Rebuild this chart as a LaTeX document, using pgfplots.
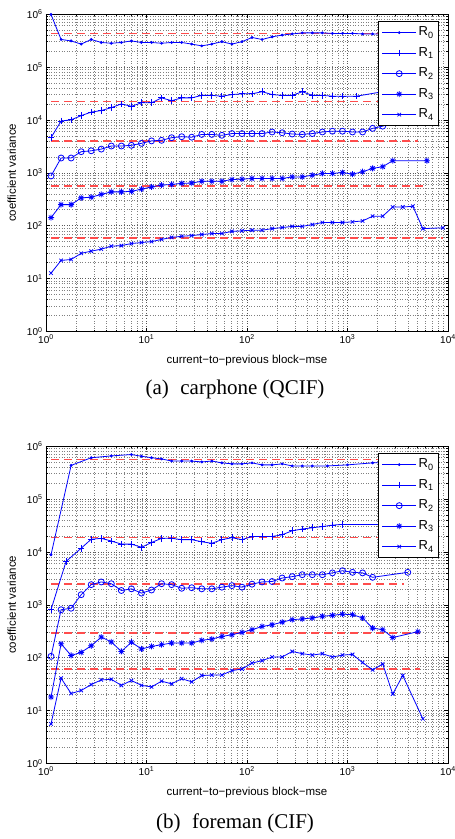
\documentclass[border=0pt]{standalone}
\usepackage{fontspec}
\setmainfont{Liberation Serif}
\setsansfont{Liberation Sans}
\usepackage{pgfplots}
\pgfplotsset{compat=1.18}
\definecolor{mblue}{rgb}{0,0,1}
\definecolor{mred}{rgb}{1,0.3,0.3}
\pgfdeclareplotmark{mstar}{%
  \pgfpathmoveto{\pgfqpoint{-\pgfplotmarksize}{0pt}}\pgfpathlineto{\pgfqpoint{\pgfplotmarksize}{0pt}}%
  \pgfpathmoveto{\pgfqpoint{0pt}{-\pgfplotmarksize}}\pgfpathlineto{\pgfqpoint{0pt}{\pgfplotmarksize}}%
  \pgfpathmoveto{\pgfqpoint{-.707\pgfplotmarksize}{-.707\pgfplotmarksize}}\pgfpathlineto{\pgfqpoint{.707\pgfplotmarksize}{.707\pgfplotmarksize}}%
  \pgfpathmoveto{\pgfqpoint{-.707\pgfplotmarksize}{.707\pgfplotmarksize}}\pgfpathlineto{\pgfqpoint{.707\pgfplotmarksize}{-.707\pgfplotmarksize}}%
  \pgfusepathqstroke}
\pgfplotsset{
 mat/.style={
  scale only axis, width=402pt, height=317.5pt,
  xmin=1, xmax=10000, ymin=1, ymax=1000000,
  xtick={1,10,100,1000,10000},
  xticklabels={10\textsuperscript{0},10\textsuperscript{1},10\textsuperscript{2},10\textsuperscript{3},10\textsuperscript{4}},
  ytick={1,10,100,1000,10000,100000,1000000},
  yticklabels={10\textsuperscript{0},10\textsuperscript{1},10\textsuperscript{2},10\textsuperscript{3},10\textsuperscript{4},10\textsuperscript{5},10\textsuperscript{6}},
  minor xtick={2,3,4,5,6,7,8,9,20,30,40,50,60,70,80,90,200,300,400,500,600,700,800,900,2000,3000,4000,5000,6000,7000,8000,9000},
  minor ytick={2,3,4,5,6,7,8,9,20,30,40,50,60,70,80,90,200,300,400,500,600,700,800,900,2000,3000,4000,5000,6000,7000,8000,9000,20000,30000,40000,50000,60000,70000,80000,90000,200000,300000,400000,500000,600000,700000,800000,900000},
  grid=both,
  major grid style={dash pattern=on 0.6pt off 2pt, black!65, line width=0.5pt},
  minor grid style={dash pattern=on 0.6pt off 2pt, black!50, line width=0.5pt},
  tick align=inside, major tick length=4pt, minor tick length=2pt,
  every tick/.style={black, line width=0.5pt},
  axis line style={black, line width=0.7pt},
  ticklabel style={font=\sffamily\fontsize{10}{12}\selectfont},
  label style={font=\sffamily\fontsize{11.5}{13}\selectfont},
  xlabel={current−to−previous block−mse},
  ylabel={coefficient variance},
  xlabel style={at={(axis description cs:0.5,-0.0915)},anchor=center},
  ylabel style={at={(axis description cs:-0.085,0.5)},anchor=center},
  legend style={at={(0.9776,0.978)}, anchor=north east, draw=black, line width=0.8pt, fill=white,
    font=\sffamily\fontsize{13}{14}\selectfont, inner xsep=3pt, inner ysep=1pt, row sep=0pt,
    nodes={text height=9.5pt, text depth=3pt, inner ysep=4pt, inner xsep=2pt},
    cells={anchor=west}},
  legend image code/.code={\draw[mark repeat=2,mark phase=2] plot coordinates {(0pt,0pt)(17pt,0pt)(34pt,0pt)};},
  every axis plot/.append style={line width=0.8pt},
 },
 r0/.style={mblue, mark=*, mark size=1pt},
 r1/.style={mblue, mark=+, mark size=3.3pt, mark options={solid}},
 r2/.style={mblue, mark=o, mark size=3pt, mark options={solid}},
 r3/.style={mblue, mark=mstar, mark size=3pt, mark options={solid}},
 r4/.style={mblue, mark=x, mark size=2.5pt, mark options={solid}},
 rd/.style={mred, dash pattern=on 8pt off 5pt, line width=1.4pt, forget plot},
}
\begin{document}
\begin{tikzpicture}
\begin{loglogaxis}[mat, at={(0,0)}, anchor=north west]
\addplot[rd] coordinates {(1.122,4.3e5)(3162,4.3e5)};
\addplot[rd] coordinates {(1.122,2.2e4)(3162,2.2e4)};
\addplot[rd] coordinates {(1.122,4.0e3)(5012,4.0e3)};
\addplot[rd] coordinates {(1.122,565)(6166,565)};
\addplot[rd] coordinates {(1.122,58)(8913,58)};
\addplot[r0] coordinates {(1.122,9.8e5)(1.413,3.3e5)(1.778,3.1e5)(2.239,2.7e5)(2.818,3.3e5)(3.548,2.9e5)(4.467,2.8e5)(5.623,2.9e5)(7.079,3.1e5)(8.913,2.9e5)(11.22,2.9e5)(14.13,2.8e5)(17.78,2.9e5)(22.39,2.9e5)(28.18,2.7e5)(35.48,2.5e5)(44.67,2.7e5)(56.23,3.0e5)(70.79,2.7e5)(89.13,3.0e5)(112.2,3.6e5)(141.3,3.3e5)(177.8,3.7e5)(223.9,4.0e5)(281.8,4.2e5)(354.8,4.4e5)(446.7,4.4e5)(562.3,4.4e5)(707.9,4.3e5)(891.3,4.3e5)(1122,4.3e5)(1413,4.2e5)(1778,4.2e5)(2239,4.2e5)(2818,4.2e5)};
\addlegendentry{R\textsubscript{0}}
\addplot[r1] coordinates {(1.122,4.6e3)(1.413,9.5e3)(1.778,1.0e4)(2.239,1.2e4)(2.818,1.4e4)(3.548,1.5e4)(4.467,1.7e4)(5.623,2.0e4)(7.079,1.8e4)(8.913,2.1e4)(11.22,2.1e4)(14.13,2.6e4)(17.78,2.3e4)(22.39,2.6e4)(28.18,2.6e4)(35.48,2.9e4)(44.67,2.9e4)(56.23,2.8e4)(70.79,3.0e4)(89.13,3.1e4)(112.2,3.1e4)(141.3,3.4e4)(177.8,3.0e4)(223.9,2.9e4)(281.8,2.9e4)(354.8,3.4e4)(446.7,2.9e4)(562.3,2.9e4)(707.9,2.8e4)(891.3,2.8e4)(1230,2.8e4)(2239,3.4e4)(2818,3.4e4)};
\addlegendentry{R\textsubscript{1}}
\addplot[r2] coordinates {(1.122,870)(1.413,1.9e3)(1.778,1.9e3)(2.239,2.5e3)(2.818,2.6e3)(3.548,2.8e3)(4.467,3.2e3)(5.623,3.2e3)(7.079,3.3e3)(8.913,3.6e3)(11.22,4.0e3)(14.13,4.1e3)(17.78,4.6e3)(22.39,4.8e3)(28.18,4.7e3)(35.48,5.3e3)(44.67,5.3e3)(56.23,5.1e3)(70.79,5.5e3)(89.13,5.5e3)(112.2,5.5e3)(141.3,5.5e3)(177.8,5.9e3)(223.9,5.7e3)(281.8,5.4e3)(354.8,5.3e3)(446.7,5.5e3)(562.3,5.9e3)(707.9,6.1e3)(891.3,6.1e3)(1122,5.9e3)(1413,5.9e3)(1778,6.9e3)(2239,7.6e3)(2818,9.0e3)(3548,9.5e3)(5012,1.0e4)};
\addlegendentry{R\textsubscript{2}}
\addplot[r3] coordinates {(1.122,142)(1.413,250)(1.778,250)(2.239,335)(2.818,345)(3.548,390)(4.467,435)(5.623,435)(7.079,445)(8.913,490)(11.22,540)(14.13,585)(17.78,600)(22.39,630)(28.18,640)(35.48,690)(44.67,690)(56.23,690)(70.79,745)(89.13,757)(112.2,780)(141.3,780)(177.8,780)(223.9,780)(281.8,835)(354.8,835)(446.7,900)(562.3,970)(707.9,970)(891.3,1010)(1122,940)(1413,1045)(1778,1210)(2239,1300)(2818,1690)(6166,1690)};
\addlegendentry{R\textsubscript{3}}
\addplot[r4] coordinates {(1.122,12.7)(1.413,22)(1.778,23)(2.239,30)(2.818,33)(3.548,36)(4.467,41)(5.623,42)(7.079,46)(8.913,48)(11.22,50)(14.13,55)(17.78,60)(22.39,63)(28.18,65)(35.48,68)(44.67,71)(56.23,71)(70.79,78)(89.13,80)(112.2,82)(141.3,82)(177.8,88)(223.9,92)(281.8,97)(354.8,97)(446.7,105)(562.3,115)(707.9,115)(891.3,115)(1122,118)(1413,123)(1778,151)(2239,151)(2818,225)(3548,225)(4467,233)(5623,88)(8913,91)};
\addlegendentry{R\textsubscript{4}}
\end{loglogaxis}
\begin{loglogaxis}[mat, at={(0,-432pt)}, anchor=north west]
\addplot[rd] coordinates {(1.122,5.5e5)(3162,5.5e5)};
\addplot[rd] coordinates {(1.122,1.85e4)(3162,1.85e4)};
\addplot[rd] coordinates {(1.122,2.45e3)(3631,2.45e3)};
\addplot[rd] coordinates {(1.122,293)(5248,293)};
\addplot[rd] coordinates {(1.122,61)(5248,61)};
\addplot[r0] coordinates {(1.122,8.8e3)(1.778,4.3e5)(2.818,6.0e5)(4.467,6.5e5)(7.079,6.9e5)(8.913,6.4e5)(11.22,6.0e5)(14.13,5.7e5)(17.78,5.2e5)(22.39,5.2e5)(28.18,5.2e5)(35.48,5.0e5)(44.67,5.2e5)(56.23,4.8e5)(70.79,4.6e5)(89.13,4.6e5)(112.2,4.8e5)(141.3,4.4e5)(177.8,4.4e5)(223.9,4.6e5)(281.8,4.2e5)(354.8,4.2e5)(446.7,4.2e5)(631,4.2e5)(1000,4.4e5)(1778,4.8e5)(3162,5.0e5)};
\addlegendentry{R\textsubscript{0}}
\addplot[r1] coordinates {(1.122,810)(1.585,6.6e3)(2.239,1.17e4)(2.818,1.73e4)(3.548,1.8e4)(4.467,1.6e4)(5.623,1.4e4)(7.079,1.4e4)(8.913,1.22e4)(11.22,1.5e4)(14.13,1.8e4)(17.78,1.8e4)(22.39,1.7e4)(28.18,1.7e4)(35.48,1.55e4)(44.67,1.45e4)(56.23,1.7e4)(70.79,1.85e4)(89.13,1.7e4)(112.2,1.95e4)(141.3,1.95e4)(177.8,1.95e4)(223.9,2.1e4)(281.8,2.5e4)(354.8,2.7e4)(446.7,2.85e4)(562.3,3.0e4)(707.9,3.2e4)(891.3,3.3e4)(2239,3.3e4)(3162,3.3e4)};
\addlegendentry{R\textsubscript{1}}
\addplot[r2] coordinates {(1.122,106)(1.413,805)(1.778,860)(2.239,1.55e3)(2.818,2.4e3)(3.548,2.7e3)(4.467,2.5e3)(5.623,1.86e3)(7.079,2.0e3)(8.913,1.66e3)(11.22,1.9e3)(14.13,2.5e3)(17.78,2.4e3)(22.39,2.05e3)(28.18,2.1e3)(35.48,2.0e3)(44.67,2.0e3)(56.23,2.15e3)(70.79,2.3e3)(89.13,2.15e3)(112.2,2.45e3)(141.3,2.7e3)(177.8,2.75e3)(223.9,3.2e3)(281.8,3.4e3)(354.8,3.7e3)(446.7,3.7e3)(562.3,3.7e3)(707.9,4.0e3)(891.3,4.4e3)(1122,4.1e3)(1413,4.0e3)(1778,3.3e3)(3981,4.1e3)};
\addlegendentry{R\textsubscript{2}}
\addplot[r3] coordinates {(1.122,18)(1.413,183)(1.778,110)(2.239,126)(2.818,168)(3.548,245)(4.467,198)(5.623,131)(7.079,196)(8.913,146)(11.22,163)(14.13,176)(17.78,189)(22.39,189)(28.18,189)(35.48,213)(44.67,225)(56.23,252)(70.79,271)(89.13,300)(112.2,338)(141.3,389)(177.8,418)(223.9,470)(281.8,523)(354.8,540)(446.7,563)(562.3,605)(707.9,630)(891.3,664)(1122,650)(1413,563)(1778,362)(2239,338)(2818,240)(5012,310)};
\addlegendentry{R\textsubscript{3}}
\addplot[r4] coordinates {(1.122,5.6)(1.413,41)(1.778,21)(2.239,24)(2.818,31)(3.548,38)(4.467,39)(5.623,30)(7.079,37)(8.913,30)(11.22,28)(14.13,36)(17.78,32)(22.39,40)(28.18,35)(35.48,46)(44.67,47)(56.23,47)(70.79,57)(89.13,61)(112.2,79)(141.3,88)(177.8,103)(223.9,103)(281.8,131)(354.8,119)(446.7,112)(562.3,119)(707.9,103)(891.3,112)(1122,115)(1413,81)(1778,59)(2239,76)(2818,20.6)(3548,46)(5623,7.0)};
\addlegendentry{R\textsubscript{4}}
\end{loglogaxis}
\node[font=\fontsize{21}{24}\selectfont] at (189pt,-375.5pt) {(a)\hspace{0.3em} carphone (QCIF)};
\node[font=\fontsize{21}{24}\selectfont] at (189pt,-809pt) {(b)\hspace{0.3em} foreman (CIF)};
\pgfresetboundingbox
\useasboundingbox (-46pt,14pt) rectangle (409pt,-825pt);
\end{tikzpicture}
\end{document}
